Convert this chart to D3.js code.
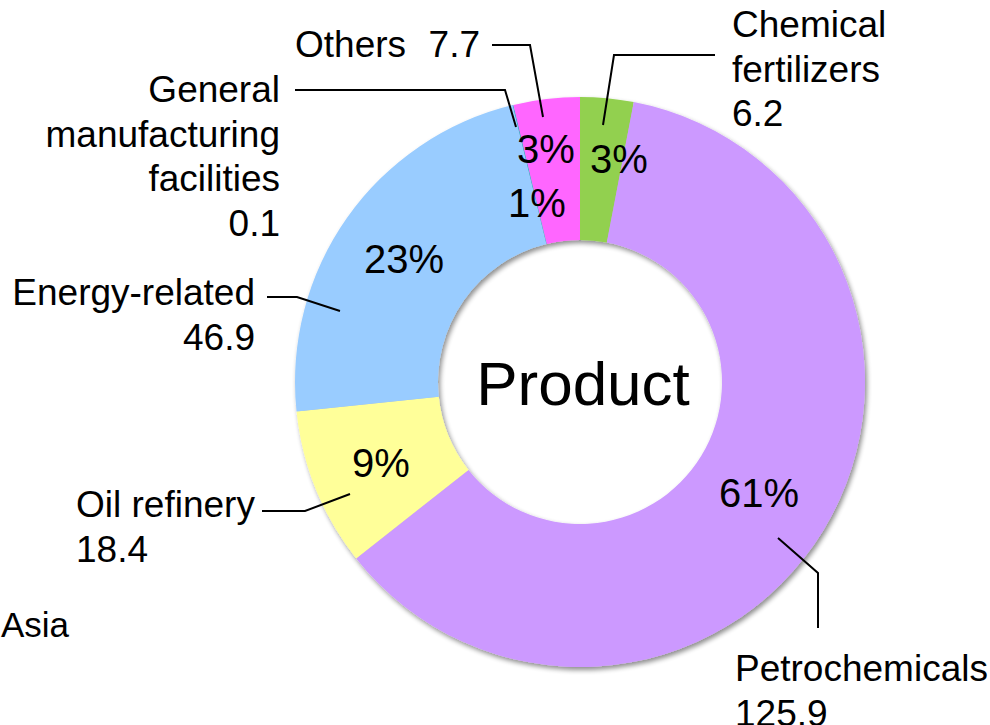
<!DOCTYPE html>
<html>
<head>
<meta charset="utf-8">
<script src="https://cdn.jsdelivr.net/npm/d3@7/dist/d3.min.js"></script>
<style>
  html, body { margin: 0; padding: 0; background: #ffffff; }
  svg { display: block; font-family: "Liberation Sans", Arial, sans-serif; }
</style>
</head>
<body>
<svg id="chart" width="990" height="725"></svg>
<script>
// ---- data ----
const categories = ["Chemical fertilizers", "Petrochemicals", "Oil refinery", "Energy-related", "General manufacturing facilities", "Others"];
const values = [6.2, 125.9, 18.4, 46.9, 0.1, 7.7];
const pctLabels = ["3%", "61%", "9%", "23%", "1%", "3%"];
const colors = ["#92D050", "#CC99FF", "#FFFF99", "#99CCFF", "#33AACC", "#FF66FF"];
const nameLines = [["Chemical", "fertilizers"], ["Petrochemicals"], ["Oil refinery"], ["Energy-related"], ["General", "manufacturing", "facilities"], ["Others"]];
const valueLabels = ["6.2", "125.9", "18.4", "46.9", "0.1", "7.7"];
const centerTitle = "Product";
const regionLabel = "Asia";

// ---- layout ----
const cx = 580, cy = 382, R = 285, r0 = 142;
const svg = d3.select("#chart");

const defs = svg.append("defs");
const f = defs.append("filter").attr("id", "shadow").attr("x", "-10%").attr("y", "-10%").attr("width", "120%").attr("height", "120%");
f.append("feGaussianBlur").attr("in", "SourceAlpha").attr("stdDeviation", 2.5).attr("result", "b");
f.append("feOffset").attr("in", "b").attr("dx", 2).attr("dy", 3).attr("result", "o");
f.append("feComponentTransfer").attr("in", "o").attr("result", "s")
  .append("feFuncA").attr("type", "linear").attr("slope", 0.45);
const m = f.append("feMerge");
m.append("feMergeNode").attr("in", "s");
m.append("feMergeNode").attr("in", "SourceGraphic");

const data = categories.map((c, i) => ({ name: c, value: values[i], pct: pctLabels[i], color: colors[i], lines: nameLines[i], val: valueLabels[i] }));
const pie = d3.pie().sort(null).value(d => d.value).startAngle(0).endAngle(2 * Math.PI);
const arcs = pie(data);
const arc = d3.arc().innerRadius(r0).outerRadius(R);

const g = svg.append("g").attr("transform", `translate(${cx},${cy})`);
g.append("g").attr("filter", "url(#shadow)")
  .selectAll("path").data(arcs).join("path")
  .attr("d", arc).attr("fill", d => d.data.color);

// percentage labels (placement offsets in pixels relative to the chart centre)
const pctPos = [[39, -209], [179, 125], [-199, 95], [-176, -109], [-43, -165], [-34, -219]];
g.selectAll("text.pct").data(arcs).join("text").attr("class", "pct")
  .attr("x", (d, i) => pctPos[i][0]).attr("y", (d, i) => pctPos[i][1])
  .attr("text-anchor", "middle").attr("font-size", 40).attr("fill", "#000")
  .text(d => d.data.pct);

// center title
svg.append("text").attr("x", cx + 3).attr("y", 405).attr("text-anchor", "middle")
  .attr("font-size", 62).attr("fill", "#000").text(centerTitle);

// leader lines + outside labels
const FS = 37, LH = 44.5;
const outside = [
  { pts: [[715, 55], [614, 55], [603, 125]], x: 732, y: 37, anchor: "start", valueInline: false },
  { pts: [[778, 538], [818, 573], [818, 628]], x: 735, y: 681, anchor: "start", valueInline: false },
  { pts: [[262, 511], [305, 511], [350, 494]], x: 76, y: 517, anchor: "start", valueInline: false },
  { pts: [[267, 297], [297, 297], [340, 311]], x: 255, y: 305, anchor: "end", valueInline: false },
  { pts: [[295, 90], [505, 90], [516, 127]], x: 280, y: 102, anchor: "end", valueInline: false },
  { pts: [[492, 45], [530, 45], [543, 117]], x: 295, y: 57, anchor: "start", valueInline: true }
];

const line = d3.line();
outside.forEach((o, i) => {
  svg.append("path").attr("d", line(o.pts)).attr("fill", "none")
    .attr("stroke", "#000").attr("stroke-width", 2);
  const d = data[i];
  if (o.valueInline) {
    svg.append("text").attr("x", o.x).attr("y", o.y).attr("font-size", FS)
      .attr("text-anchor", "start").text(d.lines[0]);
    svg.append("text").attr("x", 480).attr("y", o.y).attr("font-size", FS)
      .attr("text-anchor", "end").text(d.val);
  } else {
    const t = svg.append("text").attr("x", o.x).attr("y", o.y).attr("font-size", FS)
      .attr("text-anchor", o.anchor).attr("fill", "#000");
    d.lines.concat([d.val]).forEach((s, k) => {
      t.append("tspan").attr("x", o.x).attr("y", o.y + k * LH).text(s);
    });
  }
});

svg.append("text").attr("x", 1).attr("y", 637).attr("font-size", 35).attr("fill", "#000").text(regionLabel);
</script>
</body>
</html>
